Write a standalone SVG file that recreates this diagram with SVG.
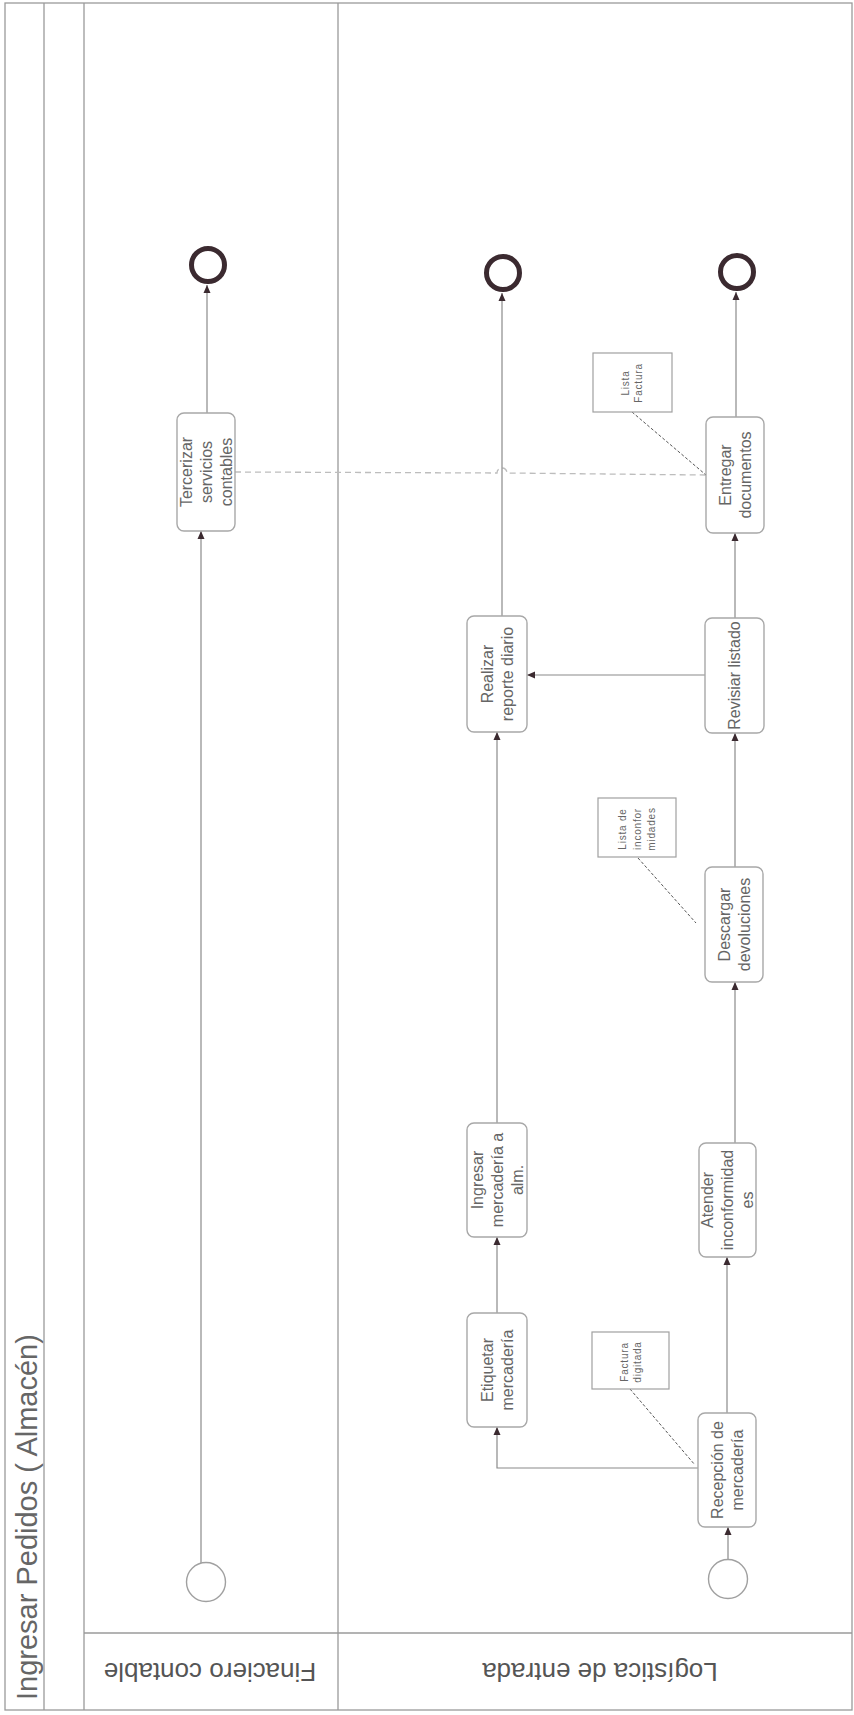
<svg xmlns="http://www.w3.org/2000/svg" width="854" height="1715" viewBox="0 0 854 1715">
<style>
.frame{fill:none;stroke:#9a9a9a;stroke-width:1.3}
.task{fill:#fff;stroke:#a8a8a8;stroke-width:1.4}
.data{fill:#fff;stroke:#a0a0a0;stroke-width:1.2}
.flow{fill:none;stroke:#8a8a8a;stroke-width:1.2}
.msg{fill:none;stroke:#bdbdbd;stroke-width:1.3;stroke-dasharray:6 4}
.assoc{fill:none;stroke:#555;stroke-width:1;stroke-dasharray:3 2}
.start{fill:#fff;stroke:#a0a0a0;stroke-width:1.4}
.end{fill:#fff;stroke:#3b2a30;stroke-width:5}
.lbl{font-family:"Liberation Sans",Arial,sans-serif;font-size:16px;fill:#666;text-anchor:middle}
.small{font-family:"Liberation Sans",Arial,sans-serif;font-size:10px;fill:#666;text-anchor:middle;letter-spacing:0.8px}
.lane{font-family:"Liberation Sans",Arial,sans-serif;font-size:26px;fill:#555;text-anchor:middle}
.title{font-family:"Liberation Sans",Arial,sans-serif;font-size:29px;fill:#666}
</style>
<defs>
<marker id="arr" markerUnits="userSpaceOnUse" markerWidth="9" markerHeight="8" refX="8" refY="4" orient="auto">
<path d="M0,0.5 L8,4 L0,7.5 z" fill="#3b2a30"/>
</marker>
</defs>
<rect width="854" height="1715" fill="#fff"/>
<g id="pool">
<rect class="frame" x="5" y="3" width="847" height="1707"/>
<line class="frame" x1="44" y1="3" x2="44" y2="1710"/>
<line class="frame" x1="84" y1="3" x2="84" y2="1710"/>
<line class="frame" x1="338" y1="3" x2="338" y2="1710"/>
<line class="frame" x1="84" y1="1633" x2="852" y2="1633"/>
<text class="title" transform="translate(37,1700) rotate(-90)">Ingresar Pedidos ( Almacén)</text>
<text class="lane" transform="translate(210,1672) rotate(180)" y="9">Finaciero contable</text>
<text class="lane" transform="translate(600,1672) rotate(180)" y="9">Logística de entrada</text>
</g>
<g id="connectors">
<line class="flow" x1="201" y1="1563" x2="201" y2="531" marker-end="url(#arr)"/>
<line class="flow" x1="207" y1="413" x2="207" y2="285" marker-end="url(#arr)"/>
<path class="msg" d="M235,472 L497,473 A5,5 0 0 1 507,473 L706,475"/>
<line class="flow" x1="728" y1="1560" x2="728" y2="1527" marker-end="url(#arr)"/>
<line class="flow" x1="727" y1="1413" x2="727" y2="1257" marker-end="url(#arr)"/>
<polyline class="flow" points="698,1468 497,1468 497,1427" marker-end="url(#arr)"/>
<line class="flow" x1="497" y1="1313" x2="497" y2="1237" marker-end="url(#arr)"/>
<line class="flow" x1="497" y1="1123" x2="497" y2="732" marker-end="url(#arr)"/>
<line class="flow" x1="735" y1="1143" x2="735" y2="982" marker-end="url(#arr)"/>
<line class="flow" x1="735" y1="867" x2="735" y2="733" marker-end="url(#arr)"/>
<line class="flow" x1="705" y1="675" x2="527" y2="675" marker-end="url(#arr)"/>
<line class="flow" x1="735" y1="618" x2="735" y2="533" marker-end="url(#arr)"/>
<line class="flow" x1="736" y1="417" x2="736" y2="292" marker-end="url(#arr)"/>
<line class="flow" x1="502" y1="616" x2="502" y2="293" marker-end="url(#arr)"/>
<line class="assoc" x1="632" y1="412" x2="706" y2="475"/>
<line class="assoc" x1="638" y1="858" x2="696" y2="923"/>
<line class="assoc" x1="630" y1="1389" x2="695" y2="1465"/>
</g>
<g id="start_financiero"><circle class="start" cx="206" cy="1582" r="19.5"/></g>
<g id="end_financiero"><circle class="end" cx="208" cy="265" r="16.5"/></g>
<g id="tercerizar">
<rect class="task" x="177" y="413" width="58" height="118" rx="7"/>
<text class="lbl" transform="translate(206,472) rotate(-90)"><tspan x="0" y="-14.5">Tercerizar</tspan><tspan x="0" y="5.5">servicios</tspan><tspan x="0" y="25.5">contables</tspan></text>
</g>
<g id="start_logistica"><circle class="start" cx="728" cy="1579" r="19.5"/></g>
<g id="recepcion">
<rect class="task" x="698" y="1413" width="58" height="114" rx="7"/>
<text class="lbl" transform="translate(727,1470) rotate(-90)"><tspan x="0" y="-4.5">Recepción de</tspan><tspan x="0" y="15.5">mercadería</tspan></text>
</g>
<g id="factura_digitada">
<rect class="data" x="592" y="1332" width="77" height="57"/>
<text class="small" transform="translate(631,1362) rotate(-90)"><tspan x="0" y="-3">Factura</tspan><tspan x="0" y="10">digitada</tspan></text>
</g>
<g id="etiquetar">
<rect class="task" x="467" y="1313" width="60" height="114" rx="7"/>
<text class="lbl" transform="translate(497,1370) rotate(-90)"><tspan x="0" y="-4.5">Etiquetar</tspan><tspan x="0" y="15.5">mercadería</tspan></text>
</g>
<g id="ingresar">
<rect class="task" x="467" y="1123" width="60" height="114" rx="7"/>
<text class="lbl" transform="translate(497,1180) rotate(-90)"><tspan x="0" y="-14.5">Ingresar</tspan><tspan x="0" y="5.5">mercadería a</tspan><tspan x="0" y="25.5">alm.</tspan></text>
</g>
<g id="atender">
<rect class="task" x="699" y="1143" width="57" height="114" rx="7"/>
<text class="lbl" transform="translate(727.5,1200) rotate(-90)"><tspan x="0" y="-14.5">Atender</tspan><tspan x="0" y="5.5">inconformidad</tspan><tspan x="0" y="25.5">es</tspan></text>
</g>
<g id="descargar">
<rect class="task" x="705" y="867" width="58" height="115" rx="7"/>
<text class="lbl" transform="translate(734,924.5) rotate(-90)"><tspan x="0" y="-4.5">Descargar</tspan><tspan x="0" y="15.5">devoluciones</tspan></text>
</g>
<g id="lista_inconformidades">
<rect class="data" x="598" y="798" width="78" height="59"/>
<text class="small" transform="translate(637,829) rotate(-90)"><tspan x="0" y="-11">Lista de</tspan><tspan x="0" y="3.5">inconfor</tspan><tspan x="0" y="18">midades</tspan></text>
</g>
<g id="revisar">
<rect class="task" x="705" y="618" width="59" height="115" rx="7"/>
<text class="lbl" transform="translate(734.5,675.5) rotate(-90)"><tspan x="0" y="5.5">Revisiar listado</tspan></text>
</g>
<g id="realizar">
<rect class="task" x="467" y="616" width="60" height="116" rx="7"/>
<text class="lbl" transform="translate(497,674) rotate(-90)"><tspan x="0" y="-4.5">Realizar</tspan><tspan x="0" y="15.5">reporte diario</tspan></text>
</g>
<g id="end_realizar"><circle class="end" cx="503" cy="273" r="16.5"/></g>
<g id="entregar">
<rect class="task" x="706" y="417" width="58" height="116" rx="7"/>
<text class="lbl" transform="translate(735,475) rotate(-90)"><tspan x="0" y="-4.5">Entregar</tspan><tspan x="0" y="15.5">documentos</tspan></text>
</g>
<g id="lista_factura">
<rect class="data" x="593" y="353" width="79" height="59"/>
<text class="small" transform="translate(632,383) rotate(-90)"><tspan x="0" y="-3">Lista</tspan><tspan x="0" y="10">Factura</tspan></text>
</g>
<g id="end_entregar"><circle class="end" cx="737" cy="272" r="16.5"/></g>
</svg>
